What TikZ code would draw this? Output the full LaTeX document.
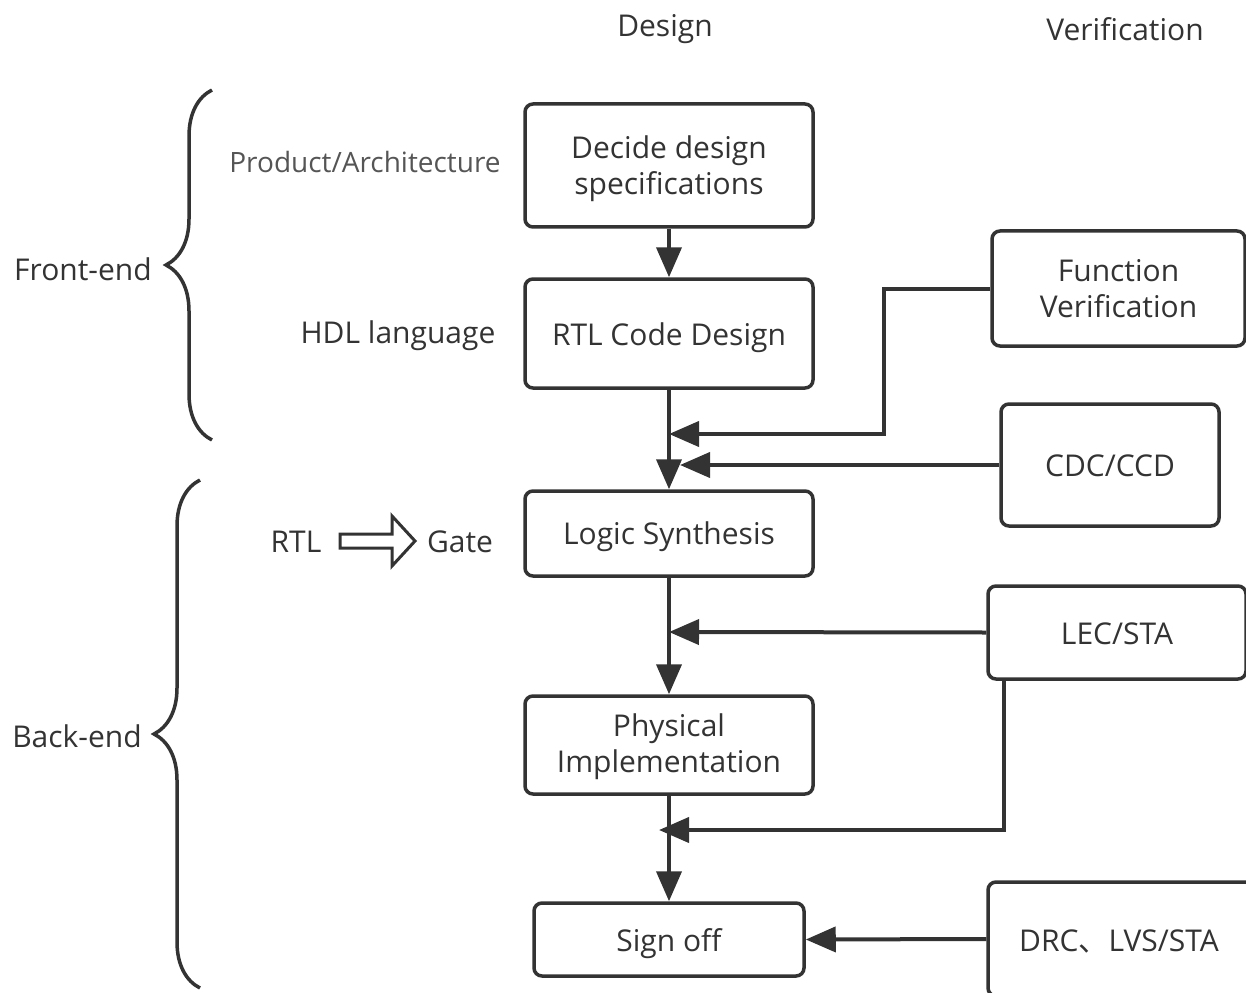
\documentclass[tikz,border=0pt]{standalone}
\usepackage{fontspec}
\setmainfont{Open Sans}
\newfontfamily\cjkfont{Noto Sans CJK SC}
\usetikzlibrary{arrows.meta,decorations.pathreplacing}
\definecolor{ink}{HTML}{333333}
\definecolor{soft}{HTML}{555555}
% box text, lowered by #1 without changing its declared size
\newcommand{\boxtext}[2]{\raisebox{-#1}[\height][\depth]{\begin{tabular}{@{}c@{}}#2\end{tabular}}}
\begin{document}
\begin{tikzpicture}[x=1pt,y=-1pt,
  font=\fontsize{30}{36}\selectfont,
  every node/.style={text=ink},
  stage/.style={draw=ink,line width=3.5pt,rounded corners=8pt,inner sep=0pt},
  flow/.style={draw=ink,line width=4pt,-{Triangle[length=30pt,width=25pt]}},
  lbl/.style={inner sep=0pt,anchor=center},
  bracket/.style={draw=ink,line width=3.5pt,decorate,decoration={brace,amplitude=46pt}}]
\useasboundingbox (0,0) rectangle (1246,992);
\begin{scope}
\clip (0,0) rectangle (1246,992);

% column headers
\node[lbl] (hd) at (665,29) {Design};
\node[lbl] (hv) at (1125,29) {Verification};

% design flow
\node[stage,minimum width=288pt,minimum height=123pt] (b1) at (669,165.5) {\boxtext{4pt}{Decide design\\specifications}};
\node[stage,minimum width=288pt,minimum height=109pt] (b2) at (669,333.5) {\boxtext{5pt}{RTL Code Design}};
\node[stage,minimum width=288pt,minimum height=85pt]  (b3) at (669,533.5) {\boxtext{4pt}{Logic Synthesis}};
\node[stage,minimum width=288pt,minimum height=98pt]  (b4) at (669,745) {\boxtext{2pt}{Physical\\Implementation}};
\node[stage,minimum width=270pt,minimum height=73pt]  (b5) at (669,939.5) {\boxtext{5pt}{Sign off}};

% verification steps
\node[stage,minimum width=253pt,minimum height=115pt] (fv)  at (1118.5,288.5) {\boxtext{4pt}{Function\\Verification}};
\node[stage,minimum width=218pt,minimum height=122pt] (cdc) at (1110,465) {\boxtext{4pt}{CDC/CCD}};
\node[stage,minimum width=258pt,minimum height=93pt]  (lec) at (1117,632.5) {\boxtext{5pt}{LEC/STA}};
\node[stage,minimum width=266pt,minimum height=114pt] (drc) at (1121,939) {};
\node[lbl] (drct) at (1119,941) {DRC{\cjkfont 、}LVS/STA};

% joins on the main flow
\coordinate (j1) at (669,434);
\coordinate (j2) at (680,465);
\coordinate (j3) at (669,632);
\coordinate (j4) at (659,830);

\draw[flow] (b1) -- (b2);
\draw[flow] (b2) -- (b3);
\draw[flow] (b3) -- (b4);
\draw[flow] (b4) -- (b5);
\draw[flow] (fv.west) -- ++(-106,0) |- (j1);
\draw[flow] (cdc.west) -- (j2);
\draw[flow] (lec.west) -- (j3);
\draw[flow] ([xshift=18pt]lec.south west) |- (j4);
\draw[flow] (drc.west) -- (b5.east);

% side annotations
\node[lbl,text=soft,font=\fontsize{28}{34}\selectfont] (pa) at (365,162) {Product/Architecture};
\node[lbl] (hdl) at (398,336) {HDL language};
\node[lbl] (rtl) at (296,542) {RTL};
\node[lbl] (gate) at (460,542) {Gate};
\draw[draw=ink,line width=3pt,line join=miter]
  (340,534) -- (392,534) -- (392,516) -- (415,541) -- (392,566) -- (392,548) -- (340,548) -- cycle;

% stage braces
\draw[bracket] (212,440) -- (212,90);
\draw[bracket] (200,988) -- (200,480);
\node[lbl] (fe) at (83,269) {Front-end};
\node[lbl] (be) at (77,736) {Back-end};
\end{scope}
\end{tikzpicture}
\end{document}
